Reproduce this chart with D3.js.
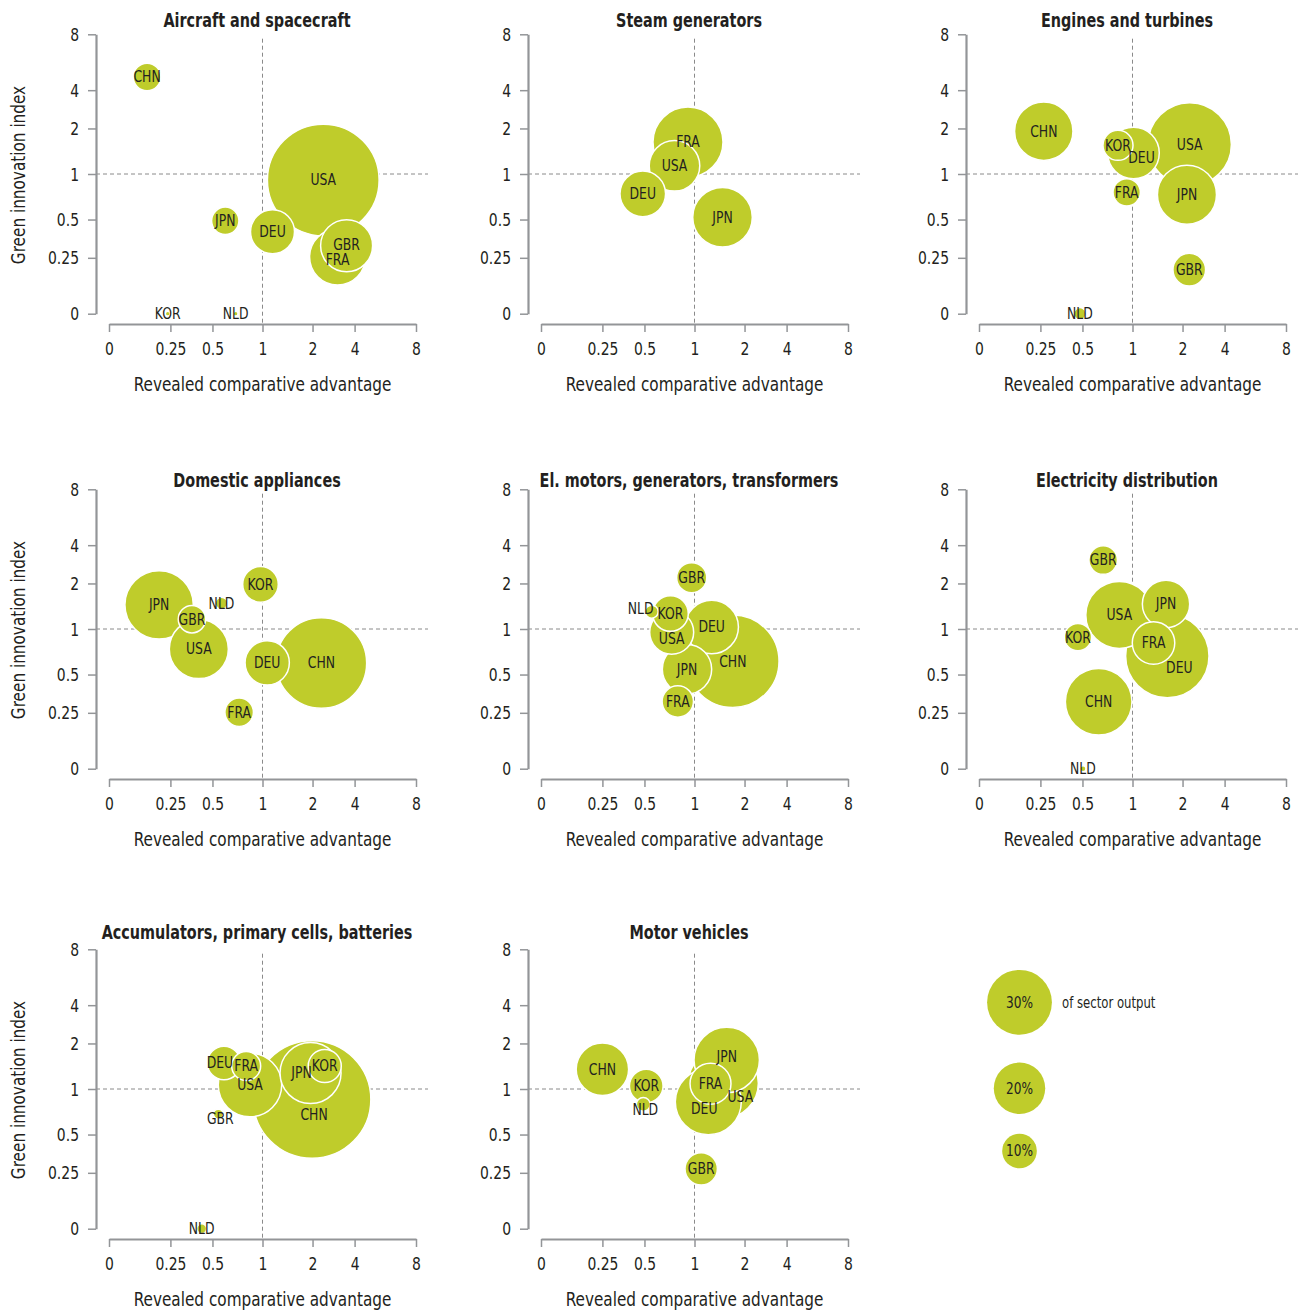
<!DOCTYPE html>
<html>
<head>
<meta charset="utf-8">
<script src="https://cdn.jsdelivr.net/npm/d3@7"></script>
<style>
  body { margin: 0; background: #fff; }
  text { font-family: "DejaVu Sans Condensed", "DejaVu Sans", sans-serif; font-stretch: condensed; fill: #231f20; }
</style>
</head>
<body>
<div id="chart"></div>
<script>
// ---- data ----
// rca = revealed comparative advantage, gii = green innovation index, share = % of sector output
const tickValues = [0, 0.25, 0.5, 1, 2, 4, 8];
const legendShares = [30, 20, 10];

const aircraft = [
  { c: "CHN", rca: 0.155, gii: 4.94, share: 6.7 },
  { c: "USA", rca: 2.51, gii: 0.934, share: 78 },
  { c: "JPN", rca: 0.628, gii: 0.492, share: 6.6 },
  { c: "DEU", rca: 1.2, gii: 0.42, share: 15.2 },
  { c: "GBR", rca: 3.62, gii: 0.329, share: 20.4 },
  { c: "FRA", rca: 3.19, gii: 0.255, share: 23.2 },
  { c: "KOR", rca: 0.239, gii: 0, share: 0.3 },
  { c: "NLD", rca: 0.732, gii: 0, share: 0.3 }
];
const steam = [
  { c: "FRA", rca: 0.935, gii: 1.7, share: 34.4 },
  { c: "USA", rca: 0.8, gii: 1.18, share: 19.4 },
  { c: "DEU", rca: 0.49, gii: 0.782, share: 16.2 },
  { c: "JPN", rca: 1.56, gii: 0.525, share: 25.9 }
];
const engines = [
  { c: "CHN", rca: 0.27, gii: 1.94, share: 25.0 },
  { c: "KOR", rca: 0.855, gii: 1.63, share: 7.8 },
  { c: "DEU", rca: 1.02, gii: 1.46, share: 20.1 },
  { c: "USA", rca: 2.34, gii: 1.65, share: 46.7 },
  { c: "JPN", rca: 2.21, gii: 0.773, share: 25.5 },
  { c: "FRA", rca: 0.942, gii: 0.799, share: 6.6 },
  { c: "GBR", rca: 2.32, gii: 0.197, share: 9.0 },
  { c: "NLD", rca: 0.485, gii: 0, share: 1.6 }
];
const appliances = [
  { c: "JPN", rca: 0.204, gii: 1.53, share: 33.0 },
  { c: "GBR", rca: 0.378, gii: 1.215, share: 6.6 },
  { c: "USA", rca: 0.419, gii: 0.78, share: 25.5 },
  { c: "NLD", rca: 0.59, gii: 1.565, share: 1.6 },
  { c: "KOR", rca: 0.98, gii: 1.98, share: 10.5 },
  { c: "DEU", rca: 1.094, gii: 0.629, share: 15.4 },
  { c: "CHN", rca: 2.42, gii: 0.626, share: 54.0 },
  { c: "FRA", rca: 0.767, gii: 0.254, share: 7.1 }
];
const motors = [
  { c: "GBR", rca: 0.972, gii: 2.3, share: 7.8 },
  { c: "NLD", rca: 0.572, gii: 1.38, share: 1.8 },
  { c: "KOR", rca: 0.76, gii: 1.34, share: 10.5 },
  { c: "USA", rca: 0.772, gii: 0.964, share: 15.2 },
  { c: "DEU", rca: 1.344, gii: 1.044, share: 21.4 },
  { c: "CHN", rca: 1.766, gii: 0.646, share: 55.9 },
  { c: "JPN", rca: 0.925, gii: 0.558, share: 18.6 },
  { c: "FRA", rca: 0.833, gii: 0.324, share: 8.4 }
];
const electricity = [
  { c: "GBR", rca: 0.707, gii: 3.22, share: 7.1 },
  { c: "USA", rca: 0.868, gii: 1.31, share: 31.8 },
  { c: "JPN", rca: 1.67, gii: 1.55, share: 17.3 },
  { c: "KOR", rca: 0.473, gii: 0.91, share: 6.6 },
  { c: "FRA", rca: 1.42, gii: 0.846, share: 14.3 },
  { c: "DEU", rca: 1.696, gii: 0.703, share: 46.7 },
  { c: "CHN", rca: 0.662, gii: 0.322, share: 31.5 },
  { c: "NLD", rca: 0.505, gii: 0, share: 0.46 }
];
const batteries = [
  { c: "DEU", rca: 0.615, gii: 1.57, share: 9.4 },
  { c: "FRA", rca: 0.837, gii: 1.505, share: 7.3 },
  { c: "USA", rca: 0.875, gii: 1.088, share: 28.9 },
  { c: "CHN", rca: 1.99, gii: 0.885, share: 85.4 },
  { c: "JPN", rca: 1.96, gii: 1.35, share: 27.0 },
  { c: "KOR", rca: 2.58, gii: 1.505, share: 9.2 },
  { c: "GBR", rca: 0.558, gii: 0.725, share: 1.1 },
  { c: "NLD", rca: 0.436, gii: 0, share: 1.1 }
];
const vehicles = [
  { c: "CHN", rca: 0.25, gii: 1.435, share: 20.7 },
  { c: "KOR", rca: 0.518, gii: 1.066, share: 9.5 },
  { c: "NLD", rca: 0.493, gii: 0.832, share: 2.0 },
  { c: "JPN", rca: 1.644, gii: 1.637, share: 30.5 },
  { c: "USA", rca: 1.576, gii: 1.125, share: 34.4 },
  { c: "DEU", rca: 1.276, gii: 0.86, share: 31.0 },
  { c: "FRA", rca: 1.32, gii: 1.116, share: 13.4 },
  { c: "GBR", rca: 1.134, gii: 0.276, share: 8.9 }
];

const sectors = [
  { title: "Aircraft and spacecraft", data: aircraft },
  { title: "Steam generators", data: steam },
  { title: "Engines and turbines", data: engines },
  { title: "Domestic appliances", data: appliances },
  { title: "El. motors, generators, transformers", data: motors },
  { title: "Electricity distribution", data: electricity },
  { title: "Accumulators, primary cells, batteries", data: batteries },
  { title: "Motor vehicles", data: vehicles }
];

// label nudges (px) where the reference moves a label off its bubble centre
const labelNudges = {
  "Aircraft and spacecraft|FRA": [0, 2.5],
  "Aircraft and spacecraft|GBR": [0, -1],
  "Engines and turbines|DEU": [8, 5],
  "El. motors, generators, transformers|NLD": [-11, -3],
  "El. motors, generators, transformers|USA": [0, 6],
  "Electricity distribution|DEU": [12, 12],
  "Accumulators, primary cells, batteries|DEU": [-4, 0],
  "Accumulators, primary cells, batteries|JPN": [-9, 0],
  "Accumulators, primary cells, batteries|CHN": [2, 15],
  "Accumulators, primary cells, batteries|GBR": [2, 5],
  "Motor vehicles|JPN": [0, -3],
  "Motor vehicles|USA": [17, 13],
  "Motor vehicles|DEU": [-4, 7],
  "Motor vehicles|NLD": [2, 5]
};

// ---- layout ----
const W = 1303, H = 1310;
const colX = [109, 541, 979];          // x of the "0" tick in each column
const rowY = [313.7, 768.7, 1228.7];   // y of the "0" tick in each row
const titleY = [26.7, 486.7, 939.3];
const plotW = 307, plotH = 279.4;
const tickFrac = [0, 0.2, 0.337, 0.5, 0.663, 0.8, 1];
const green = "#bfcc2b";
const grey = "#939598";

// the reference face is a tall condensed one: stretch text vertically
function stretch(sel, k) {
  sel.each(function() {
    const t = d3.select(this);
    const tx = +t.attr("x") || 0, ty = +t.attr("y") || 0;
    const prev = t.attr("transform");
    t.attr("x", 0).attr("y", 0)
      .attr("transform", `${prev ? prev + " " : ""}translate(${tx},${ty}) scale(1,${k})`);
  });
}

const svg = d3.select("#chart").append("svg")
  .attr("width", W).attr("height", H);

const size = d3.scalePow().exponent(0.57).domain([0, 30]).range([0, 32.4]);

sectors.forEach((sector, i) => {
  const x0 = colX[i % 3], y0 = rowY[Math.floor(i / 3)];
  const g = svg.append("g");

  const x = d3.scaleLinear().domain(tickValues).range(tickFrac.map(f => x0 + f * plotW));
  const y = d3.scaleLinear().domain(tickValues).range(tickFrac.map(f => y0 - f * plotH));

  // reference lines at 1
  g.append("line")
    .attr("x1", x0 - 13).attr("x2", x0 + 319)
    .attr("y1", y(1)).attr("y2", y(1))
    .attr("stroke", "#8a8a8a").attr("stroke-width", 1).attr("stroke-dasharray", "4,3");
  g.append("line")
    .attr("x1", x(1)).attr("x2", x(1))
    .attr("y1", y0 - 275).attr("y2", y0 + 10.3)
    .attr("stroke", "#8a8a8a").attr("stroke-width", 1).attr("stroke-dasharray", "4,3");

  // axes
  const xAxis = g.append("g")
    .attr("transform", `translate(0,${y0 + 10.3})`)
    .call(d3.axisBottom(x).tickValues(tickValues).tickSize(8).tickSizeOuter(0).tickFormat(d3.format("")));
  const yAxis = g.append("g")
    .attr("transform", `translate(${x0 - 13},0)`)
    .call(d3.axisLeft(y).tickValues(tickValues).tickSize(8).tickSizeOuter(0).tickFormat(d3.format("")));

  [xAxis, yAxis].forEach(ax => {
    ax.select(".domain").attr("stroke", grey).attr("stroke-width", 2.2);
    ax.selectAll(".tick line").attr("stroke", grey).attr("stroke-width", 1.5);
    ax.selectAll(".tick text")
      .attr("fill", "#231f20")
      .style("font-size", "15.5px")
      .style("font-family", "'DejaVu Sans Condensed', 'DejaVu Sans', sans-serif");
  });
  xAxis.selectAll(".tick text").attr("y", 30.5).attr("dy", 0);
  yAxis.selectAll(".tick text").attr("x", -17).attr("dy", "0.36em");
  stretch(xAxis.selectAll(".tick text"), 1.1);
  stretch(yAxis.selectAll(".tick text"), 1.1);

  // axis titles
  const xt = g.append("text")
    .attr("x", x0 + plotW / 2).attr("y", y0 + 77)
    .attr("text-anchor", "middle")
    .style("font-size", "17px")
    .text("Revealed comparative advantage");
  stretch(xt, 1.15);
  if (i % 3 === 0) {
    const yt = g.append("text")
      .attr("transform", `translate(18,${y0 - plotH / 2 + 1}) rotate(-90)`)
      .attr("text-anchor", "middle")
      .attr("dominant-baseline", "central")
      .style("font-size", "17px")
      .text("Green innovation index");
    stretch(yt, 1.15);
  }

  // panel title (long ones end at the panel's right edge)
  const title = g.append("text")
    .attr("x", x0 + 148).attr("y", titleY[Math.floor(i / 3)])
    .attr("text-anchor", "middle")
    .style("font-size", "16px").style("font-weight", "bold")
    .text(sector.title);
  const tw = title.node().getComputedTextLength();
  if (x0 + 148 + tw / 2 > x0 + 316) {
    title.attr("text-anchor", "end").attr("x", x0 + 316);
  }
  stretch(title, 1.2);

  // bubbles, biggest first so the small ones sit on top
  const sorted = sector.data.slice().sort((a, b) => b.share - a.share);
  g.selectAll("circle.bubble")
    .data(sorted)
    .enter()
    .append("circle")
    .attr("class", "bubble")
    .attr("cx", d => x(d.rca))
    .attr("cy", d => y(d.gii))
    .attr("r", d => size(d.share))
    .attr("fill", green)
    .attr("stroke", "#fff")
    .attr("stroke-width", 1.5);

  const labels = g.selectAll("text.lab")
    .data(sorted)
    .enter()
    .append("text")
    .attr("class", "lab")
    .attr("x", d => x(d.rca) + (labelNudges[sector.title + "|" + d.c] || [0, 0])[0])
    .attr("y", d => y(d.gii) + (labelNudges[sector.title + "|" + d.c] || [0, 0])[1])
    .attr("text-anchor", "middle")
    .attr("dominant-baseline", "central")
    .style("font-size", "13.8px")
    .text(d => d.c);
  stretch(labels, 1.17);
});

// ---- size legend ----
const legendY = [1002.3, 1088.3, 1151];
const legend = svg.append("g");
legendShares.forEach((s, i) => {
  legend.append("circle")
    .attr("cx", 1019.5).attr("cy", legendY[i])
    .attr("r", size(s))
    .attr("fill", green);
  const lt = legend.append("text")
    .attr("x", 1019.5).attr("y", legendY[i])
    .attr("text-anchor", "middle")
    .attr("dominant-baseline", "central")
    .style("font-size", "13.5px")
    .text(s + "%");
  stretch(lt, 1.2);
});
const lg = legend.append("text")
  .attr("x", 1062).attr("y", 1003)
  .attr("dominant-baseline", "central")
  .style("font-size", "13px")
  .text("of sector output");
stretch(lg, 1.2);
</script>
</body>
</html>
